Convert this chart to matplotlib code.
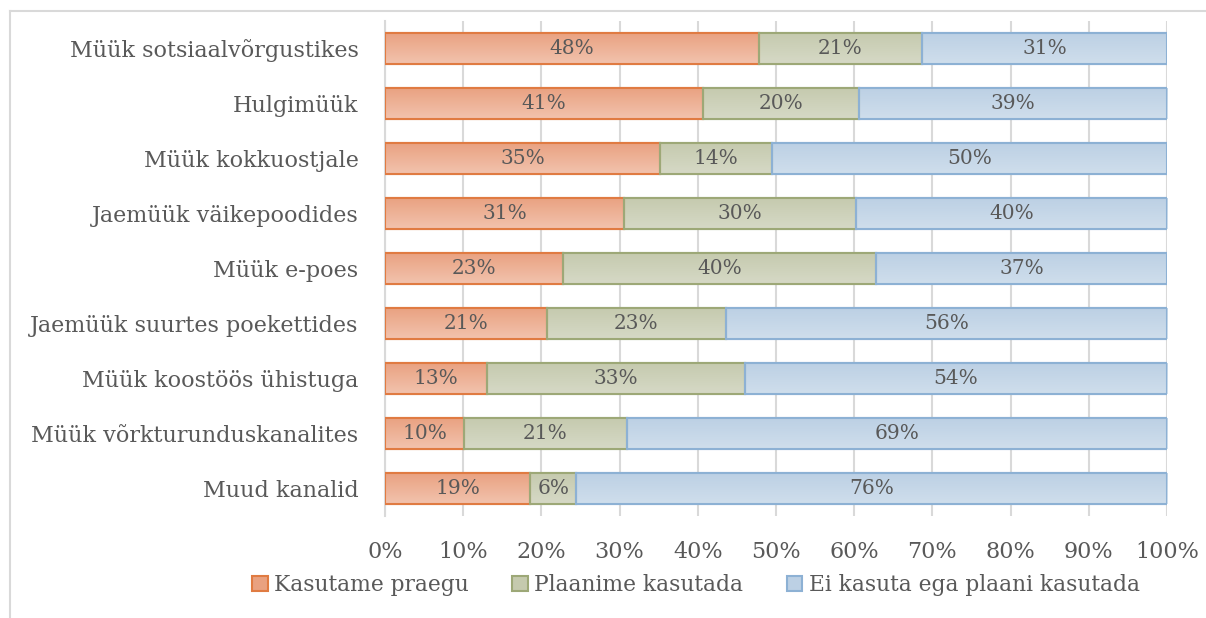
import numpy as np
import matplotlib.pyplot as plt
from matplotlib.colors import LinearSegmentedColormap
from matplotlib.lines import Line2D
from matplotlib.patches import Patch

categories = [
    "Müük sotsiaalvõrgustikes",
    "Hulgimüük",
    "Müük kokkuostjale",
    "Jaemüük väikepoodides",
    "Müük e-poes",
    "Jaemüük suurtes poekettides",
    "Müük koostöös ühistuga",
    "Müük võrkturunduskanalites",
    "Muud kanalid",
]
series_names = ["Kasutame praegu", "Plaanime kasutada", "Ei kasuta ega plaani kasutada"]
kasutame = [47.8, 40.7, 35.1, 30.6, 22.8, 20.7, 13.0, 10.1, 18.6]
plaanime = [20.9, 19.9, 14.4, 29.6, 40.0, 22.9, 33.0, 20.8, 5.8]
ei_kasuta = [31.3, 39.4, 50.4, 39.8, 37.2, 56.4, 54.0, 69.1, 75.6]
xticks = [0, 10, 20, 30, 40, 50, 60, 70, 80, 90, 100]

# (top colour, bottom colour, edge colour)
styles = [
    ("#f2c3ae", "#e9a180", "#e07b42"),
    ("#d6d9c6", "#c5caae", "#9da877"),
    ("#cfdeec", "#bcd0e4", "#8db1d4"),
]
text_col = "#595959"
grid_col = "#d9d9d9"
font = "DejaVu Serif"

plt.rcParams["font.family"] = font

fig = plt.figure(figsize=(12.06, 6.18), dpi=100)
ax = fig.add_axes([385 / 1206, 1 - 516 / 618, 782 / 1206, 495 / 618])

data = [kasutame, plaanime, ei_kasuta]
totals = np.sum(data, axis=0)
y = np.arange(len(categories))
left = np.zeros(len(categories))
bar_h = 0.58

for vals, (top_c, bot_c, edge_c) in zip(data, styles):
    vals = np.asarray(vals) / totals * 100
    cmap = LinearSegmentedColormap.from_list("g", [top_c, bot_c])
    bars = ax.barh(y, vals, left=left, height=bar_h, color=bot_c,
                   edgecolor=edge_c, linewidth=1.5, zorder=3)
    grad = np.linspace(0, 1, 64).reshape(-1, 1)
    for b, v, l in zip(bars, vals, left):
        yy = b.get_y()
        im = ax.imshow(grad, cmap=cmap, aspect="auto", zorder=3.5,
                       extent=(l, l + v, yy + bar_h, yy), origin="lower")
        im.set_clip_path(b)
        # re-draw edge on top of gradient
        ax.barh(b.get_y() + bar_h / 2, v, left=l, height=bar_h, fill=False,
                edgecolor=edge_c, linewidth=1.5, zorder=4)
        ax.text(l + v / 2, b.get_y() + bar_h / 2, f"{round(v):d}%",
                ha="center", va="center", fontsize=14.5, color=text_col, zorder=5)
    left = left + vals

ax.set_xlim(0, 100)
ax.set_ylim(len(categories) - 0.5, -0.5)
ax.set_xticks(xticks)
ax.set_xticklabels([f"{t}%" for t in xticks])
ax.set_yticks(y)
ax.set_yticklabels(categories)
ax.tick_params(axis="x", length=0, pad=18, labelsize=16, colors=text_col)
ax.tick_params(axis="y", length=0, pad=19, labelsize=16, colors=text_col)
ax.grid(axis="x", color=grid_col, linewidth=1.5, zorder=0)
ax.set_axisbelow(True)
for side in ["top", "right", "bottom"]:
    ax.spines[side].set_visible(False)
ax.spines["left"].set_color(grid_col)
ax.spines["left"].set_linewidth(1.5)

handles = [Patch(facecolor=bot_c, edgecolor=edge_c, linewidth=1.5)
           for (_, bot_c, edge_c) in styles]
fig.legend(handles, series_names, loc="center", bbox_to_anchor=(696 / 1206, 1 - 585 / 618),
           ncol=3, frameon=False, fontsize=15.7, labelcolor=text_col,
           handlelength=0.7, handleheight=0.7, handletextpad=0.3, columnspacing=2.0)

# outer chart border (partially visible)
fig.add_artist(Line2D([10 / 1206, 1], [1 - 11 / 618, 1 - 11 / 618], color=grid_col, lw=1.5))
fig.add_artist(Line2D([10 / 1206, 10 / 1206], [0, 1 - 11 / 618], color=grid_col, lw=1.5))

fig.savefig("out.png", dpi=100)
